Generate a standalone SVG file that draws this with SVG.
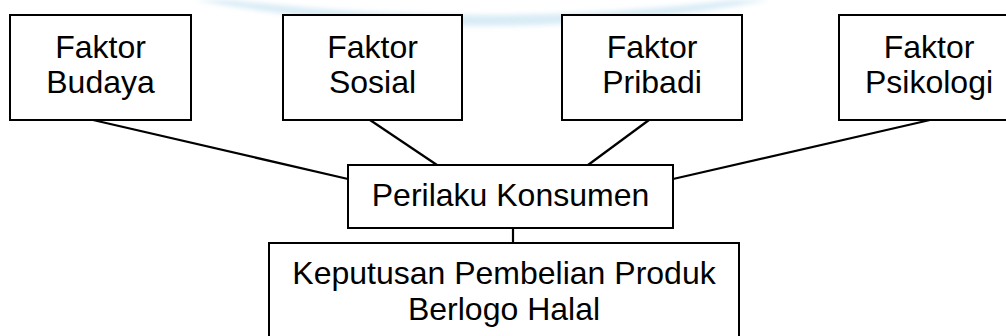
<svg xmlns="http://www.w3.org/2000/svg" width="1006" height="336" viewBox="0 0 1006 336">
  <style>
    .box { fill: #ffffff; stroke: #000000; stroke-width: 2; }
    .lbl { font-family: "Liberation Sans", Arial, sans-serif; font-size: 32px; fill: #000000; text-anchor: middle; }
    .conn { stroke: #000000; stroke-width: 2.2; fill: none; }
  </style>
  <defs>
    <filter id="soft" x="-10%" y="-50%" width="120%" height="200%">
      <feGaussianBlur stdDeviation="2.5"/>
    </filter>
  </defs>
  <rect width="1006" height="336" fill="#ffffff"/>
  <g id="watermark" filter="url(#soft)" opacity="0.55">
    <path d="M 195 0 Q 480 52 770 0 L 735 0 Q 480 30 230 0 Z" fill="#b9dcee"/>
  </g>
  <g id="connectors">
    <line class="conn" x1="93" y1="120" x2="348" y2="179"/>
    <line class="conn" x1="370" y1="120" x2="437" y2="165"/>
    <line class="conn" x1="649" y1="120" x2="588" y2="165"/>
    <line class="conn" x1="930" y1="120" x2="673" y2="179"/>
    <line class="conn" x1="513" y1="228" x2="513" y2="243"/>
  </g>
  <g id="budaya">
    <rect class="box" x="10" y="15" width="181" height="105"/>
    <text class="lbl" x="100.5" y="58">Faktor</text>
    <text class="lbl" x="100.5" y="93">Budaya</text>
  </g>
  <g id="sosial">
    <rect class="box" x="283" y="15" width="179" height="105"/>
    <text class="lbl" x="372.5" y="58">Faktor</text>
    <text class="lbl" x="372.5" y="93">Sosial</text>
  </g>
  <g id="pribadi">
    <rect class="box" x="562" y="15" width="180" height="105"/>
    <text class="lbl" x="652" y="58">Faktor</text>
    <text class="lbl" x="652" y="93">Pribadi</text>
  </g>
  <g id="psikologi">
    <rect class="box" x="839" y="15" width="180" height="105"/>
    <text class="lbl" x="929" y="58">Faktor</text>
    <text class="lbl" x="929" y="93">Psikologi</text>
  </g>
  <g id="perilaku">
    <rect class="box" x="348" y="165" width="325" height="63"/>
    <text class="lbl" x="510.5" y="206">Perilaku Konsumen</text>
  </g>
  <g id="keputusan">
    <rect class="box" x="269" y="243" width="470" height="105"/>
    <text class="lbl" x="504" y="284">Keputusan Pembelian Produk</text>
    <text class="lbl" x="504" y="320">Berlogo Halal</text>
  </g>
</svg>
